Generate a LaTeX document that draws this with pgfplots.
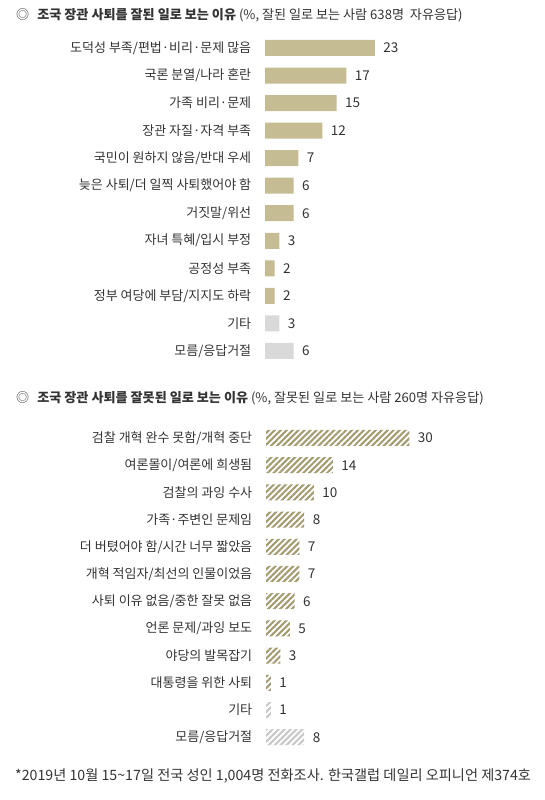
\documentclass[border=0pt]{standalone}
\usepackage{pgfplots}
\pgfplotsset{compat=1.18}
\usepackage{fontspec}
\setmainfont{Noto Sans CJK KR}
\usetikzlibrary{patterns.meta}
\definecolor{tan}{HTML}{C5BC94}
\definecolor{hatch}{HTML}{A39C72}
\definecolor{lgray}{HTML}{D9D9D9}
\definecolor{hgray}{HTML}{C8C8C8}
\definecolor{txt}{HTML}{333333}
\pgfplotsset{
  rowaxis/.style={
    scale only axis, width=239pt, xmin=0, xmax=50,
    ymin=-0.5, ymax=11.5, y dir=reverse,
    xbar, bar shift=0pt, bar width=16pt,
    axis line style={draw=none}, tick style={draw=none},
    xtick=\empty, ytick={0,...,11},
    yticklabel style={font=\fontsize{13}{15}\selectfont, text=txt, xshift=-6pt},
    nodes near coords, point meta=x,
    /pgf/number format/assume math mode=true,
    every node near coord/.append style={font=\fontsize{13.5}{15}\selectfont, text=txt, anchor=west, xshift=5pt},
    clip=false,
  }
}
\begin{document}
\begin{tikzpicture}[x=1pt,y=1pt]
\useasboundingbox (0,0) rectangle (545,800);
\node[anchor=west, text=txt, font=\fontsize{13.1}{15}\selectfont, inner sep=0] at (16,785) {◎\hspace{8pt}\textbf{조국 장관 사퇴를 잘된 일로 보는 이유} (\%, 잘된 일로 보는 사람 638명\ \ 자유응답)};
\begin{axis}[rowaxis, at={(265pt,765.8pt)}, anchor=north west, height=330.5pt,
  yticklabels={도덕성 부족/편법·비리·문제 많음, 국론 분열/나라 혼란, 가족 비리·문제, 장관 자질·자격 부족, 국민이 원하지 않음/반대 우세, 늦은 사퇴/더 일찍 사퇴했어야 함, 거짓말/위선, 자녀 특혜/입시 부정, 공정성 부족, 정부 여당에 부담/지지도 하락, 기타, 모름/응답거절}]
\addplot[draw=none, fill=tan] coordinates {(23,0) (17,1) (15,2) (12,3) (7,4) (6,5) (6,6) (3,7) (2,8) (2,9)};
\addplot[draw=none, fill=lgray] coordinates {(3,10) (6,11)};
\end{axis}
\node[anchor=west, text=txt, font=\fontsize{13.1}{15}\selectfont, inner sep=0] at (16,402) {◎\hspace{8pt}\textbf{조국 장관 사퇴를 잘못된 일로 보는 이유} (\%, 잘못된 일로 보는 사람 260명 자유응답)};
\begin{axis}[rowaxis, at={(266pt,375.6pt)}, anchor=north west, height=326.4pt,
  yticklabels={검찰 개혁 완수 못함/개혁 중단, 여론몰이/여론에 희생됨, 검찰의 과잉 수사, 가족·주변인 문제임, 더 버텼어야 함/시간 너무 짧았음, 개혁 적임자/최선의 인물이었음, 사퇴 이유 없음/중한 잘못 없음, 언론 문제/과잉 보도, 야당의 발목잡기, 대통령을 위한 사퇴, 기타, 모름/응답거절}]
\addplot[draw=none, pattern={Lines[angle=45, distance=4.2pt, line width=2.1pt]}, pattern color=hatch] coordinates {(30,0) (14,1) (10,2) (8,3) (7,4) (7,5) (6,6) (5,7) (3,8) (1,9)};
\addplot[draw=none, pattern={Lines[angle=45, distance=4.2pt, line width=2.1pt]}, pattern color=hgray] coordinates {(1,10) (8,11)};
\end{axis}
\node[anchor=west, text=txt, font=\fontsize{14.2}{16}\selectfont, inner sep=0] at (15,24) {*2019년 10월 15\textasciitilde17일 전국 성인 1,004명 전화조사. 한국갤럽 데일리 오피니언 제374호};
\end{tikzpicture}
\end{document}
